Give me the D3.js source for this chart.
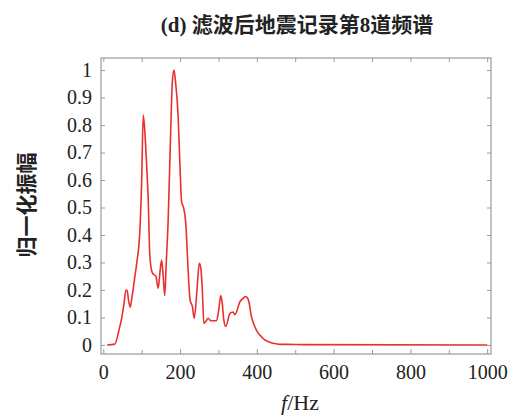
<!DOCTYPE html>
<html lang="zh">
<head>
  <meta charset="UTF-8">
  <script src="https://cdn.jsdelivr.net/npm/d3@7/dist/d3.min.js"></script>
  <title>滤波后地震记录第8道频谱</title>
  <style>
    body { margin: 0; background: #fff; }
    text { fill: #222; }
    .tick_text { font-family: 'Liberation Serif', serif; font-size: 20px; }
    .frame line, .frame path { stroke: #9a9a9a; }
  </style>
</head>
<body>
<div id="chart"></div>
<script>
  // spectrum
  var freq = [10, 30, 41, 48, 54, 59, 62, 66, 70, 75, 81, 87, 95, 100, 104, 108, 113, 117, 121, 126,
    130, 137, 143, 148, 152, 156, 160, 164, 169, 175, 180, 184, 188, 195, 200, 204, 209, 215, 220, 226,
    232, 237, 244, 250, 254, 258, 262, 267, 273, 280, 295, 301, 306, 310, 314, 319, 330, 338, 343, 356,
    365, 371, 378, 386, 395, 404, 412, 421, 443, 460, 480, 520, 1000];
  var amp = [0, 0.003, 0.055, 0.098, 0.15, 0.2, 0.198, 0.16, 0.137, 0.176, 0.236, 0.297, 0.41, 0.6, 0.836, 0.78, 0.65, 0.53, 0.33, 0.27,
    0.258, 0.25, 0.206, 0.27, 0.309, 0.25, 0.18, 0.3, 0.455, 0.75, 0.96, 1.0, 0.96, 0.83, 0.64, 0.52, 0.5, 0.44, 0.3, 0.164,
    0.14, 0.097, 0.2, 0.297, 0.28, 0.2, 0.079, 0.085, 0.097, 0.088, 0.088, 0.13, 0.18, 0.15, 0.09, 0.067, 0.115, 0.12, 0.11, 0.157,
    0.17, 0.176, 0.164, 0.103, 0.065, 0.042, 0.03, 0.018, 0.006, 0.002, 0.002, 0.001, 0];

  var xTicks = [0, 200, 400, 600, 800, 1000];
  var xMinor = [100, 300, 500, 700, 900];
  var yTicks = [0, 0.1, 0.2, 0.3, 0.4, 0.5, 0.6, 0.7, 0.8, 0.9, 1];

  var W = 508, H = 418;
  var plotL = 101, plotR = 491, plotT = 58, plotB = 354;

  var svg = d3.select('#chart').append('svg')
    .attr('width', W)
    .attr('height', H);

  var xScale = d3.scaleLinear().domain([-6, 1010]).range([plotL, plotR]);
  var yScale = d3.scaleLinear().domain([-0.033, 1.044]).range([plotB, plotT]);

  var fmt = function(d) { return d3.format('~g')(d); };

  // bottom axis with labels
  var gx = svg.append('g').attr('class', 'frame')
    .attr('transform', 'translate(0,' + plotB + ')')
    .call(d3.axisBottom(xScale).tickValues(xTicks).tickSizeInner(-5).tickSizeOuter(0).tickPadding(11).tickFormat(fmt));
  gx.selectAll('text').attr('class', 'tick_text');
  gx.select('.domain').remove();
  svg.append('g').attr('class', 'frame')
    .attr('transform', 'translate(0,' + plotB + ')')
    .call(d3.axisBottom(xScale).tickValues(xMinor).tickSizeInner(-4).tickSizeOuter(0).tickFormat(''))
    .select('.domain').remove();

  // top axis (ticks only)
  svg.append('g').attr('class', 'frame')
    .attr('transform', 'translate(0,' + plotT + ')')
    .call(d3.axisTop(xScale).tickValues(xTicks.concat(xMinor)).tickSizeInner(-4).tickSizeOuter(0).tickFormat(''))
    .select('.domain').remove();

  // left axis with labels
  var gy = svg.append('g').attr('class', 'frame')
    .attr('transform', 'translate(' + plotL + ',0)')
    .call(d3.axisLeft(yScale).tickValues(yTicks).tickSizeInner(-4).tickSizeOuter(0).tickPadding(9).tickFormat(fmt));
  gy.selectAll('text').attr('class', 'tick_text');
  gy.select('.domain').remove();

  // right axis (ticks only)
  svg.append('g').attr('class', 'frame')
    .attr('transform', 'translate(' + plotR + ',0)')
    .call(d3.axisRight(yScale).tickValues(yTicks).tickSizeInner(-4).tickSizeOuter(0).tickFormat(''))
    .select('.domain').remove();

  // frame
  svg.append('rect')
    .attr('x', plotL).attr('y', plotT)
    .attr('width', plotR - plotL).attr('height', plotB - plotT)
    .style('fill', 'none')
    .style('stroke', '#9a9a9a')
    .style('stroke-width', 1.2);

  // spectrum line
  var line = d3.line()
    .x(function(d, i) { return xScale(freq[i]); })
    .y(function(d) { return yScale(d); })
    .curve(d3.curveMonotoneX);

  svg.append('path')
    .datum(amp)
    .attr('d', line)
    .style('fill', 'none')
    .style('stroke', '#e8302f')
    .style('stroke-width', 1.6);

  // title
  svg.append('text')
    .attr('x', 297)
    .attr('y', 32)
    .style('text-anchor', 'middle')
    .style('font-family', "'Liberation Serif', 'Noto Sans CJK SC', serif")
    .style('font-size', '21px')
    .style('font-weight', 'bold')
    .text('(d) 滤波后地震记录第8道频谱');

  // y label
  svg.append('text')
    .attr('transform', 'translate(34,205) rotate(-90)')
    .style('text-anchor', 'middle')
    .style('font-family', "'Noto Sans CJK SC', sans-serif")
    .style('font-size', '21px')
    .style('font-weight', 'bold')
    .text('归一化振幅');

  // x label
  var xl = svg.append('text')
    .attr('x', 300)
    .attr('y', 410)
    .style('text-anchor', 'middle')
    .style('font-family', "'Liberation Serif', serif")
    .style('font-size', '22px');
  xl.append('tspan').style('font-style', 'italic').text('f');
  xl.append('tspan').text('/Hz');
</script>
</body>
</html>
